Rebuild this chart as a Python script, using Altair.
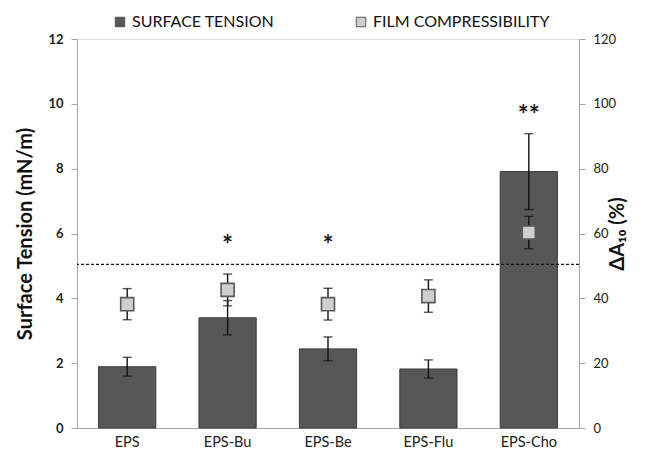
import altair as alt
import pandas as pd

categories = ["EPS", "EPS-Bu", "EPS-Be", "EPS-Flu", "EPS-Cho"]
st_mean = [1.89, 3.40, 2.44, 1.82, 7.91]
st_err = [0.29, 0.53, 0.37, 0.28, 1.17]
fc_mean = [38.2, 42.6, 38.2, 40.7, 60.3]
fc_err = [4.8, 4.9, 4.9, 5.0, 5.0]
stars = ["", "*", "*", "", "**"]
star_y = [None, 5.8, 5.8, None, 9.8]
threshold_st = 5.05
series = ["SURFACE TENSION", "FILM COMPRESSIBILITY"]

df = pd.DataFrame({
    "cat": categories,
    "st": st_mean,
    "st_lo": [m - e for m, e in zip(st_mean, st_err)],
    "st_hi": [m + e for m, e in zip(st_mean, st_err)],
    "fc": fc_mean,
    "fc_lo": [m - e for m, e in zip(fc_mean, fc_err)],
    "fc_hi": [m + e for m, e in zip(fc_mean, fc_err)],
    "star": stars,
    "star_y": star_y,
    "s1": series[0],
    "s2": series[1],
})

FONT = "Lato"
AXC = "#a6a6a6"

x = alt.X("cat:N", sort=categories,
          scale=alt.Scale(paddingInner=0.43, paddingOuter=0.215),
          axis=alt.Axis(labelAngle=0, ticks=False, domainColor=AXC, labelFontSize=14.5,
                        labelColor="#222", labelPadding=7, title=None, labelFont=FONT))

fill_scale = alt.Scale(domain=series, range=["#575757", "#cfcfcf"])

y_st_scale = alt.Scale(domain=[0, 12], nice=False)
y_fc_scale = alt.Scale(domain=[0, 120], nice=False)

base = alt.Chart(df)

bars = base.mark_bar(stroke="#3c3c3c", strokeWidth=1).encode(
    x=x,
    y=alt.Y("st:Q", scale=y_st_scale,
            axis=alt.Axis(values=[0, 2, 4, 6, 8, 10, 12], tickSize=6, domainColor=AXC, tickColor=AXC,
                          labelFontWeight="bold", labelFontSize=13, labelColor="#222", labelPadding=8,
                          grid=False, title="Surface Tension (mN/m)", titleFontSize=20,
                          titleFontWeight="bold", titleColor="#111", titlePadding=12,
                          labelFont=FONT, titleFont=FONT)),
    fill=alt.Fill("s1:N", scale=fill_scale,
                  legend=alt.Legend(title=None, orient="none", legendX=35, legendY=-25,
                                    direction="horizontal", columns=2, symbolType="square",
                                    symbolSize=90, symbolStrokeColor="#555", symbolStrokeWidth=1,
                                    labelFontSize=16, labelFont=FONT, labelColor="#111",
                                    labelLimit=400, columnPadding=78, labelOffset=4)),
)

st_rule = base.mark_rule(color="#111", strokeWidth=1.4).encode(
    x=alt.X("cat:N", sort=categories), y=alt.Y("st_lo:Q", scale=y_st_scale), y2="st_hi:Q")
st_lo_tick = base.mark_tick(color="#111", size=9, thickness=1.4).encode(
    x=alt.X("cat:N", sort=categories), y=alt.Y("st_lo:Q", scale=y_st_scale))
st_hi_tick = base.mark_tick(color="#111", size=9, thickness=1.4).encode(
    x=alt.X("cat:N", sort=categories), y=alt.Y("st_hi:Q", scale=y_st_scale))

thr = alt.Chart(pd.DataFrame({"t": [threshold_st]})).mark_rule(
    color="#111", strokeDash=[3, 2], strokeWidth=1.2).encode(y=alt.Y("t:Q", scale=y_st_scale))

star_text = base.transform_filter("datum.star != ''").mark_text(
    fontSize=26, fontWeight="bold", font=FONT, color="#1a1a1a", baseline="middle", dy=6).encode(
    x=alt.X("cat:N", sort=categories), y=alt.Y("star_y:Q", scale=y_st_scale), text="star:N")

left = alt.layer(bars, st_rule, st_lo_tick, st_hi_tick, thr, star_text)

fc_rule = base.mark_rule(color="#111", strokeWidth=1.4).encode(
    x=alt.X("cat:N", sort=categories),
    y=alt.Y("fc_lo:Q", scale=y_fc_scale,
            axis=alt.Axis(values=[0, 20, 40, 60, 80, 100, 120], orient="right", tickSize=6,
                          domainColor=AXC, tickColor=AXC, labelFontSize=13, labelColor="#222",
                          labelPadding=8, grid=False, title="ΔA₁₀ (%)", titleFontSize=20,
                          titleFontWeight="bold", titleColor="#111", titleAngle=270,
                          titlePadding=12, labelFont=FONT, titleFont=FONT)),
    y2="fc_hi:Q")
fc_lo_tick = base.mark_tick(color="#111", size=9, thickness=1.4).encode(
    x=alt.X("cat:N", sort=categories), y=alt.Y("fc_lo:Q", scale=y_fc_scale))
fc_hi_tick = base.mark_tick(color="#111", size=9, thickness=1.4).encode(
    x=alt.X("cat:N", sort=categories), y=alt.Y("fc_hi:Q", scale=y_fc_scale))
pts = base.mark_point(shape="square", filled=True, size=170, stroke="#5a5a5a",
                      strokeWidth=1.6, opacity=1).encode(
    x=alt.X("cat:N", sort=categories), y=alt.Y("fc:Q", scale=y_fc_scale),
    fill=alt.Fill("s2:N", scale=fill_scale))

right = alt.layer(fc_rule, fc_lo_tick, fc_hi_tick, pts)

chart = alt.layer(left, right).resolve_scale(y="independent").properties(
    width=502, height=389,
    autosize=alt.AutoSizeParams(type="none"),
    padding={"left": 69, "top": 31, "right": 65, "bottom": 22},
).configure_view(stroke=None).configure(font=FONT)

chart.save("out.html", embed_options={"renderer": "svg", "actions": False})
